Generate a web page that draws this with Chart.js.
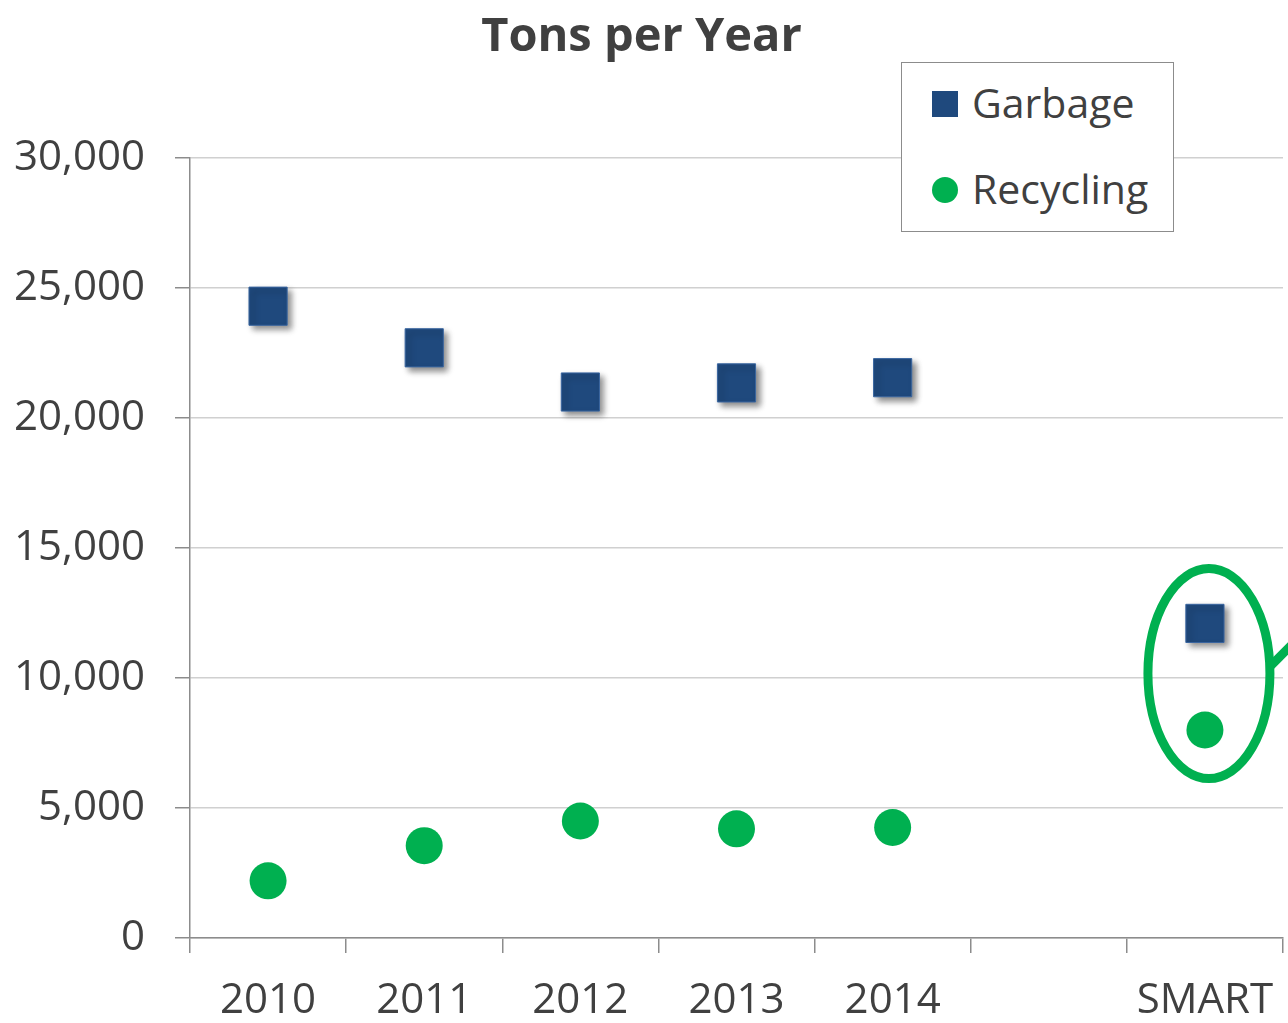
<!DOCTYPE html>
<html>
<head>
<meta charset="utf-8">
<script src="https://cdn.jsdelivr.net/npm/chart.js@4/dist/chart.umd.min.js"></script>
<style>
  html, body { margin: 0; padding: 0; background: #fff; }
  #wrap { position: relative; width: 1288px; height: 1023px; }
  #legend {
    position: absolute; left: 901px; top: 62px; width: 271px; height: 168px;
    border: 1.5px solid #8c8c8c; background: #fff;
    font-family: "Open Sans", sans-serif; font-size: 41px; color: #404040;
  }
  .item { position: absolute; left: 30px; height: 50px; line-height: 50px; white-space: nowrap; }
  .item span.mk { display: inline-block; width: 26px; height: 26px; vertical-align: middle; margin-right: 14px; position: relative; top: -3px; }
</style>
</head>
<body>
<div id="wrap">
  <canvas id="chart" width="1288" height="1023"></canvas>
  <div id="legend">
    <div class="item" style="top:14px"><span class="mk" style="background:#1f497d"></span>Garbage</div>
    <div class="item" style="top:100px"><span class="mk" style="background:#00b050;border-radius:50%"></span>Recycling</div>
  </div>
</div>
<script>
const categories = ["2010", "2011", "2012", "2013", "2014", "", "SMART"];
const garbage = [24300, 22700, 21000, 21350, 21550, null, 12100];
const recycling = [2200, 3550, 4500, 4200, 4250, null, 8000];
const yTicks = [0, 5000, 10000, 15000, 20000, 25000, 30000];

const navy = "#1f497d";
const green = "#00b050";
const textColor = "#404040";
const font = "'Open Sans', sans-serif";

// drop shadow under the garbage squares
const shadowPlugin = {
  id: "shadow",
  beforeDatasetDraw(chart, args) {
    if (args.index !== 0) return;
    const ctx = chart.ctx;
    ctx.save();
    ctx.shadowColor = "rgba(0,0,0,0.45)";
    ctx.shadowBlur = 6;
    ctx.shadowOffsetX = 4;
    ctx.shadowOffsetY = 4;
  },
  afterDatasetDraw(chart, args) {
    if (args.index !== 0) return;
    chart.ctx.restore();
  }
};

// green ring around the SMART points
const ringPlugin = {
  id: "ring",
  afterDatasetsDraw(chart) {
    const ctx = chart.ctx;
    const x = chart.scales.x.getPixelForValue(6) + 4;
    const y = chart.scales.y.getPixelForValue(10170);
    const ry = chart.scales.y.getPixelForValue(0) - chart.scales.y.getPixelForValue(4040);
    ctx.save();
    ctx.strokeStyle = green;
    ctx.lineWidth = 9;
    ctx.beginPath();
    ctx.ellipse(x, y, 61, ry, 0, 0, Math.PI * 2);
    ctx.stroke();
    ctx.beginPath();
    ctx.moveTo(x + 60, y - 6);
    ctx.lineTo(x + 100, y - 46);
    ctx.stroke();
    ctx.restore();
  }
};

new Chart(document.getElementById("chart"), {
  type: "line",
  data: {
    labels: categories,
    datasets: [
      {
        label: "Garbage", data: garbage, showLine: false, clip: false,
        pointStyle: "rect", pointRadius: 27, pointHoverRadius: 27,
        backgroundColor: navy, borderColor: "#3a66a0", pointBorderWidth: 1
      },
      {
        label: "Recycling", data: recycling, showLine: false, clip: false,
        pointStyle: "circle", pointRadius: 18.5, pointHoverRadius: 18.5,
        backgroundColor: green, borderColor: green, pointBorderWidth: 0
      }
    ]
  },
  options: {
    responsive: false,
    animation: false,
    events: [],
    layout: { autoPadding: false, padding: { right: 5 } },
    plugins: {
      legend: { display: false },
      tooltip: { enabled: false },
      title: {
        display: true,
        text: "Tons per Year",
        color: textColor,
        font: { family: font, size: 47, weight: "bold" },
        padding: { top: 9, bottom: 92.6 }
      }
    },
    scales: {
      x: {
        offset: true,
        grid: { offset: true, drawOnChartArea: false, tickLength: 15, color: "#8c8c8c", lineWidth: 1.5 },
        border: { color: "#8c8c8c", width: 1.5 },
        ticks: { color: textColor, font: { family: font, size: 42 }, padding: 23, maxRotation: 0, autoSkip: false },
        afterFit(s) { s.height = 85; s.paddingLeft = 0; s.paddingRight = 0; }
      },
      y: {
        min: 0, max: 30000,
        afterBuildTicks(s) { s.ticks = yTicks.map(v => ({ value: v })); },
        grid: { color: "#d0d0d0", lineWidth: 1.5, tickLength: 15, tickColor: "#8c8c8c" },
        border: { color: "#8c8c8c", width: 1.5 },
        ticks: {
          color: textColor, font: { family: font, size: 42 }, padding: 30,
          callback: v => v.toLocaleString("en-US")
        },
        afterFit(s) { s.width = 190; s.paddingTop = 0; s.paddingBottom = 0; }
      }
    }
  },
  plugins: [shadowPlugin, ringPlugin]
});
</script>
</body>
</html>
